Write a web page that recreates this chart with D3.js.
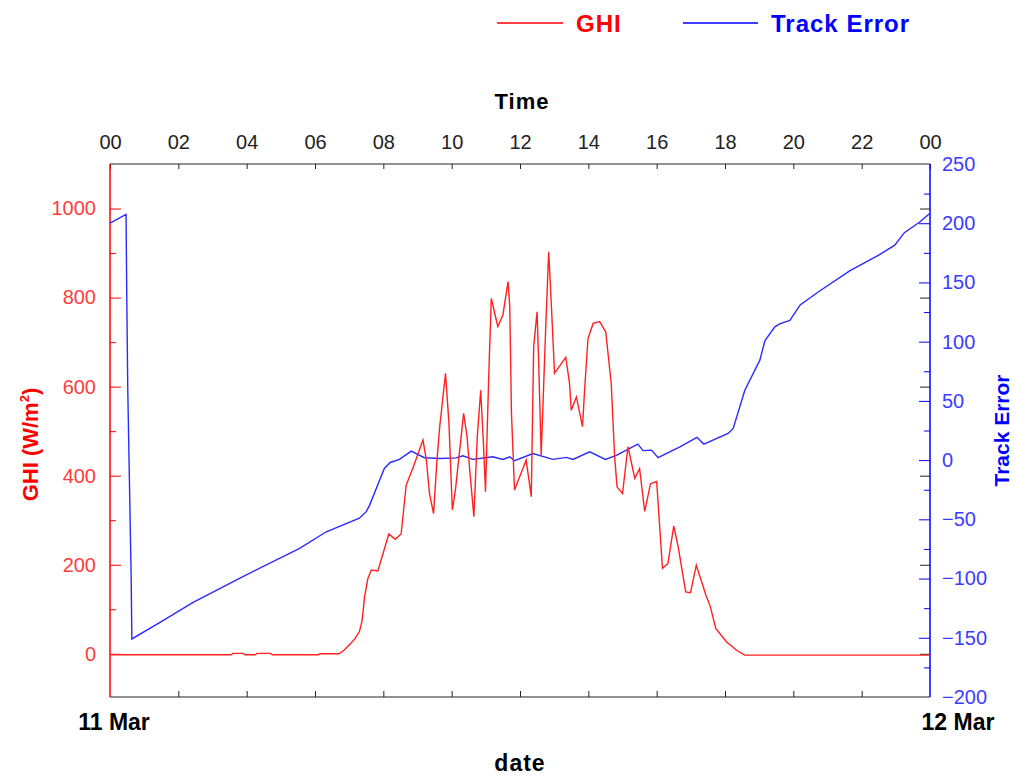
<!DOCTYPE html>
<html>
<head>
<meta charset="utf-8">
<script src="https://cdn.jsdelivr.net/npm/d3@7"></script>
<style>
	body { margin: 0; background: #fff; }
	svg { display: block; font-family: "Liberation Sans", Arial, sans-serif; }
	.tick text { font-size: 20px; }
</style>
</head>
<body>
<svg id="chart" width="1015" height="778"></svg>
<script>
// hours since 11 Mar 00:00
var ghiHours = [0, 3.55, 3.6, 3.9, 3.95, 4.25, 4.3, 4.7, 4.75, 6.1, 6.15, 6.7, 6.85, 7.0, 7.16, 7.3, 7.38, 7.45, 7.55, 7.65,
	7.84, 8.16, 8.35, 8.52, 8.67, 8.86, 9.16, 9.26, 9.35, 9.47, 9.57, 9.65, 9.82, 9.92, 10.02, 10.11, 10.35, 10.45, 10.52, 10.65,
	10.75, 10.85, 10.93, 10.99, 11.09, 11.16, 11.35, 11.5, 11.65, 11.7, 11.75, 11.84, 12.18, 12.33, 12.4, 12.5, 12.55, 12.62, 12.75, 12.84,
	12.92, 13.01, 13.34, 13.45, 13.5, 13.65, 13.83, 13.89, 13.99, 14.14, 14.33, 14.51, 14.67, 14.77, 14.84, 15.0, 15.16, 15.36, 15.5, 15.65,
	15.82, 16.0, 16.17, 16.33, 16.5, 16.63, 16.85, 16.99, 17.16, 17.44, 17.57, 17.73, 18.04, 18.34, 18.58, 24];
var ghiValues = [-2, -2, 1, 1, -2, -2, 1, 1, -2, -2, 0, 0, 8, 20, 33, 50, 75, 128, 170, 188,
	186, 269, 257, 269, 379, 416, 480, 435, 360, 315, 435, 510, 630, 518, 323, 368, 540, 488, 420, 308,
	488, 592, 473, 364, 637, 798, 735, 761, 836, 780, 540, 368, 435, 353, 690, 768, 645, 446, 727, 903,
	780, 630, 666, 607, 547, 577, 510, 592, 708, 742, 746, 723, 607, 443, 375, 360, 465, 394, 416, 320,
	382, 387, 192, 203, 287, 240, 139, 137, 199, 132, 106, 57, 27, 8, -3, -3];

var trackHours = [0, 0.47, 0.49, 0.52, 0.57, 0.62, 0.64, 1.44, 2.42, 3.79, 5.55, 6.33, 7.3, 7.5, 7.6, 7.89, 8.03, 8.2, 8.47,
	8.82, 9.2, 9.65, 10.13, 10.33, 10.62, 11.2, 11.5, 11.7, 11.84, 12.38, 12.96, 13.36, 13.55, 14.04, 14.5, 14.82, 15.45, 15.6, 15.85,
	16.04, 16.68, 17.18, 17.38, 18.09, 18.24, 18.58, 19.02, 19.17, 19.46, 19.6, 19.9, 20.2, 20.78, 21.66, 22.5, 22.97, 23.25, 23.7, 24];
var trackValues = [200, 207.5, 140, 60, -20, -100, -151, -137.5, -120.4, -99.8, -74.5, -60.5, -49, -43.5, -38, -17, -7, -2, 0.6,
	7.6, 2, 1.4, 1.9, 3.6, 0.6, 2.8, 0.6, 2.8, -0.5, 5.6, 0.6, 2.3, 0.6, 7, 0.6, 4, 13.5, 8, 8.4,
	2, 11.2, 19.2, 13.5, 22.5, 26.7, 59, 84.4, 101, 112.5, 115, 118, 131, 143, 160, 173, 181.5, 192, 201, 208.5];

var hourTicks = [0, 2, 4, 6, 8, 10, 12, 14, 16, 18, 20, 22, 24];
var dateLabels = ["11 Mar", "12 Mar"];
var ghiMajor = [0, 200, 400, 600, 800, 1000];
var ghiMinor = [100, 300, 500, 700, 900];
var trackMajor = [-200, -150, -100, -50, 0, 50, 100, 150, 200, 250];
var trackMinor = [-175, -125, -75, -25, 25, 75, 125, 175, 225];

var red = '#ff0000';
var blue = '#0000ff';

var plot = { left: 110, right: 930, top: 164, bottom: 697 };

var svg = d3.select('#chart');

var x = d3.scaleLinear().domain([0, 24]).range([plot.left, plot.right]);
var yL = d3.scaleLinear().domain([-97, 1100]).range([plot.bottom, plot.top]);
var yR = d3.scaleLinear().domain([-200, 250]).range([plot.bottom, plot.top]);

var pad = function(h) {
	return d3.format('02d')(h % 24);
};

var cleanAxis = function(g, color) {
	g.select('.domain').remove();
	g.selectAll('line').attr('stroke', color);
	g.selectAll('text').attr('fill', color);
};

// top time axis
svg.append('g')
	.attr('transform', 'translate(0,' + plot.top + ')')
	.call(d3.axisTop(x).tickValues(hourTicks).tickSize(-5).tickPadding(15).tickFormat(pad))
	.call(cleanAxis, '#222');

// bottom date axis, ticks only
svg.append('g')
	.attr('transform', 'translate(0,' + plot.bottom + ')')
	.call(d3.axisBottom(x).tickValues(hourTicks.slice(1, -1)).tickSize(-6).tickFormat(''))
	.call(cleanAxis, '#222');

// left GHI axis
svg.append('g')
	.attr('transform', 'translate(' + plot.left + ',0)')
	.call(d3.axisLeft(yL).tickValues(ghiMinor).tickSize(-6).tickFormat(''))
	.call(cleanAxis, red);
svg.append('g')
	.attr('transform', 'translate(' + plot.left + ',0)')
	.call(d3.axisLeft(yL).tickValues(ghiMajor).tickSize(-11).tickPadding(14).tickFormat(d3.format('d')))
	.call(cleanAxis, red)
	.selectAll('text').attr('fill', '#ff3c3c');

// right Track Error axis
svg.append('g')
	.attr('transform', 'translate(' + plot.right + ',0)')
	.call(d3.axisRight(yR).tickValues(trackMinor).tickSize(-6).tickFormat(''))
	.call(cleanAxis, blue);
svg.append('g')
	.attr('transform', 'translate(' + plot.right + ',0)')
	.call(d3.axisRight(yR).tickValues(trackMajor.slice(1, -1)).tickSize(-11).tickPadding(12).tickFormat(d3.format('d')))
	.call(cleanAxis, blue)
	.selectAll('text').attr('fill', '#3c3cff');
svg.append('g')
	.attr('transform', 'translate(' + plot.right + ',0)')
	.call(d3.axisRight(yR).tickValues([trackMajor[0], trackMajor[trackMajor.length - 1]]).tickSize(0).tickPadding(12).tickFormat(d3.format('d')))
	.call(cleanAxis, '#3c3cff');
// mirror of GHI majors on the right side
svg.append('g')
	.attr('transform', 'translate(' + plot.right + ',0)')
	.call(d3.axisRight(yL).tickValues(ghiMajor).tickSize(-10).tickFormat(''))
	.call(cleanAxis, '#222');

// frame
svg.append('line').attr('x1', plot.left).attr('x2', plot.right).attr('y1', plot.top).attr('y2', plot.top)
	.attr('stroke', '#222');
svg.append('line').attr('x1', plot.left).attr('x2', plot.right).attr('y1', plot.bottom).attr('y2', plot.bottom)
	.attr('stroke', '#222');
svg.append('line').attr('x1', plot.left).attr('x2', plot.left).attr('y1', plot.top).attr('y2', plot.bottom)
	.attr('stroke', red).attr('stroke-width', 1.5);
svg.append('line').attr('x1', plot.right).attr('x2', plot.right).attr('y1', plot.top).attr('y2', plot.bottom)
	.attr('stroke', blue).attr('stroke-width', 1.5);

// series
var ghiLine = d3.line()
	.x(function(d, i) { return x(ghiHours[i]); })
	.y(function(d) { return yL(d); });
var trackLine = d3.line()
	.x(function(d, i) { return x(trackHours[i]); })
	.y(function(d) { return yR(d); });

svg.append('path').datum(trackValues)
	.attr('d', trackLine)
	.attr('fill', 'none').attr('stroke', '#2a2aff').attr('stroke-width', 1.4);
svg.append('path').datum(ghiValues)
	.attr('d', ghiLine)
	.attr('fill', 'none').attr('stroke', '#ff2020').attr('stroke-width', 1.4);

// titles
svg.append('text').attr('x', 522).attr('y', 109)
	.attr('text-anchor', 'middle').attr('font-weight', 'bold').attr('font-size', 22)
	.attr('letter-spacing', 1).text('Time');
svg.append('text').attr('x', 520).attr('y', 771)
	.attr('text-anchor', 'middle').attr('font-weight', 'bold').attr('font-size', 23)
	.attr('letter-spacing', 1).text('date');

svg.selectAll('.dateLabel').data(dateLabels)
	.enter().append('text')
		.attr('class', 'dateLabel')
		.attr('x', function(d, i) { return x(i * 24) + (i === 0 ? 4 : 28); })
		.attr('y', 730)
		.attr('text-anchor', 'middle').attr('font-weight', 'bold').attr('font-size', 23)
		.text(function(d) { return d; });

var leftTitle = svg.append('text')
	.attr('transform', 'translate(38,' + yL(470) + ') rotate(-90)')
	.attr('text-anchor', 'middle').attr('font-weight', 'bold').attr('font-size', 22)
	.attr('fill', red);
leftTitle.append('tspan').text('GHI  (W/m');
leftTitle.append('tspan').attr('font-size', 13).attr('dy', -9).text('2');
leftTitle.append('tspan').attr('dy', 9).text(')');

svg.append('text')
	.attr('transform', 'translate(1009,' + yR(25) + ') rotate(-90)')
	.attr('text-anchor', 'middle').attr('font-weight', 'bold').attr('font-size', 21)
	.attr('fill', blue).text('Track Error');

// legend
var legendItems = [
	{ name: 'GHI', color: red, x1: 497, x2: 563 },
	{ name: 'Track Error', color: blue, x1: 683, x2: 758 }
];
var legend = svg.selectAll('.legend').data(legendItems)
	.enter().append('g').attr('class', 'legend');
legend.append('line')
	.attr('x1', function(d) { return d.x1; })
	.attr('x2', function(d) { return d.x2; })
	.attr('y1', 23).attr('y2', 23)
	.attr('stroke', function(d) { return d.color; }).attr('stroke-width', 1.4);
legend.append('text')
	.attr('x', function(d) { return d.x2 + 13; })
	.attr('y', 32)
	.attr('font-weight', 'bold').attr('font-size', 24).attr('letter-spacing', 1)
	.attr('fill', function(d) { return d.color; })
	.text(function(d) { return d.name; });
</script>
</body>
</html>
